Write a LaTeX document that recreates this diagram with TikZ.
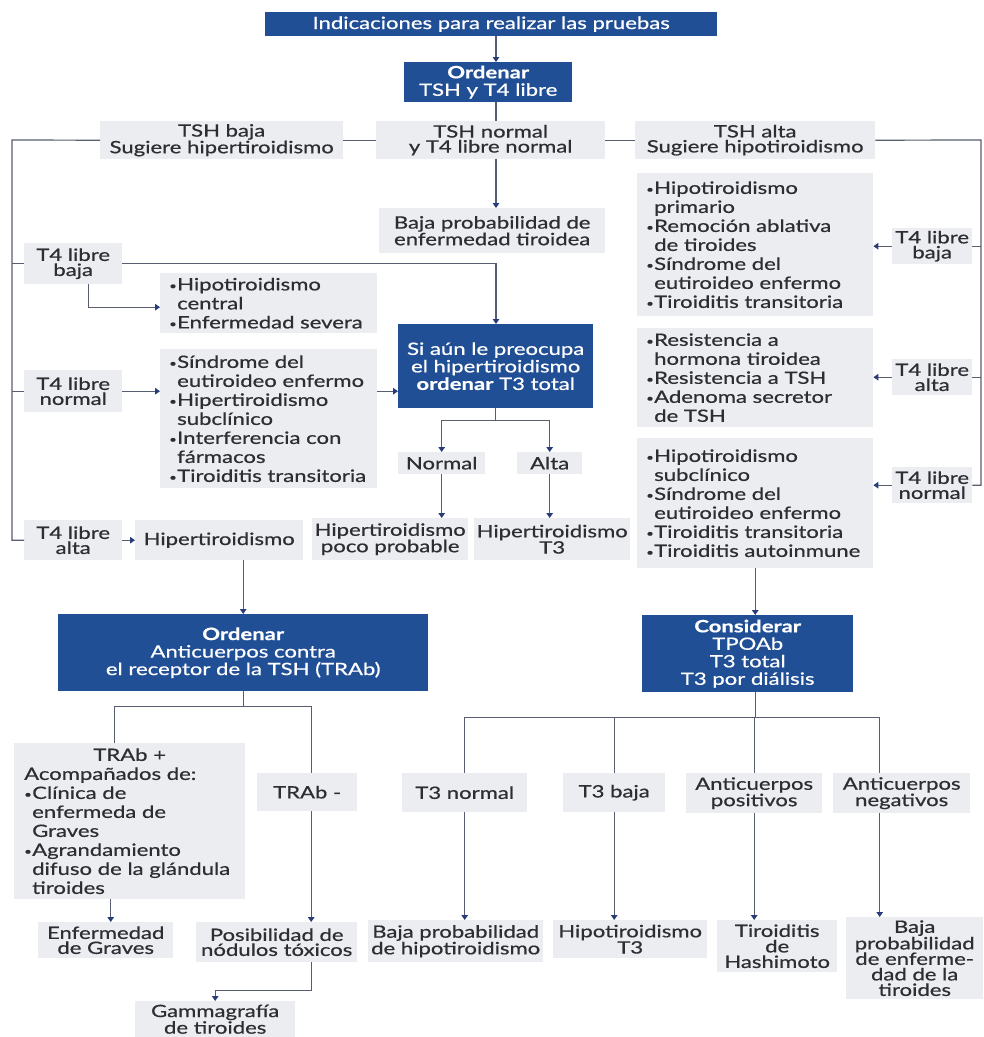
\documentclass[tikz,border=0pt]{standalone}
\usepackage{fontspec}
\setmainfont{Lato}[FakeStretch=1.3,FakeBold=0.6]
\usepackage{graphicx}
\usepackage{tikz}
\usetikzlibrary{arrows.meta}
\usetikzlibrary{positioning}
\usepackage{color}
\hyphenpenalty=10000

\definecolor{navybox}{RGB}{33,79,149}
\definecolor{boxgray}{RGB}{235,237,241}
\definecolor{linegray}{RGB}{88,94,112}
\definecolor{tipblue}{RGB}{40,60,122}
\definecolor{textgray}{RGB}{45,45,50}

\newcommand{\itemdot}{\makebox[8pt][l]{\raisebox{1pt}{\scalebox{0.6}{\textbullet}}}}
\newcommand{\itemgap}{\hspace*{8pt}}

\tikzset{
  darkbox/.style={anchor=north west, fill=navybox, text=white, align=center, inner sep=2pt, font=\fontsize{17}{17.5}\selectfont},
  lightbox/.style={anchor=north west, fill=boxgray, text=textgray, align=center, inner sep=2pt, font=\fontsize{17}{15}\selectfont},
  listbox/.style={lightbox, align=left, inner xsep=9pt, font=\fontsize{17}{19}\selectfont},
  link/.style={draw=linegray, line width=1.2pt},
  arrow/.style={link, -{Triangle[length=5pt,width=6.5pt,color=tipblue]}},
}

\begin{document}
\begin{tikzpicture}[x=1pt,y=-1pt]
    \useasboundingbox (0,0) rectangle (984,1037);
    \fill[white] (0,0) rectangle (984,1037);

    \coordinate (spine) at (496,0);
    \coordinate (lrail) at (12,140);
    \coordinate (rrail) at (981,140);

    % top
    \node[darkbox,minimum width=452pt,minimum height=24pt] (top) at (265,12) {Indicaciones para realizar las pruebas};
    \node[darkbox,minimum width=168pt,minimum height=40pt] (ordtsh) at (404,62) {\textbf{Ordenar}\\TSH y T4 libre};
    \node[lightbox,minimum width=243pt,minimum height=38pt] (tshbaja) at (100,121) {TSH baja\\Sugiere hipertiroidismo};
    \node[lightbox,minimum width=229pt,minimum height=38pt] (tshnormal) at (376,121) {TSH normal\\y T4 libre normal};
    \node[lightbox,minimum width=240pt,minimum height=38pt] (tshalta) at (635,121) {TSH alta\\Sugiere hipotiroidismo};
    \node[lightbox,minimum width=226pt,minimum height=45pt] (bajaprob) at (379,208) {Baja probabilidad de\\enfermedad tiroidea};

    % left
    \node[lightbox,minimum width=98pt,minimum height=41pt] (t4bajaL) at (24,243) {T4 libre\\baja};
    \node[listbox,text width=199pt,minimum height=60pt] (centralL) at (160,273) {\itemdot Hipotiroidismo\\\itemgap central\\\itemdot Enfermedad severa};
    \node[lightbox,minimum width=98pt,minimum height=42pt] (t4normalL) at (24,370) {T4 libre\\normal};
    \node[listbox,text width=199pt,minimum height=139pt] (eutiroL) at (160,349) {\itemdot Síndrome del\\\itemgap eutiroideo enfermo\\\itemdot Hipertiroidismo\\\itemgap subclínico\\\itemdot Interferencia con\\\itemgap fármacos\\\itemdot Tiroiditis transitoria};
    \node[darkbox,minimum width=195pt,minimum height=84pt] (siaun) at (398,324) {Si aún le preocupa\\el hipertiroidismo\\\textbf{ordenar} T3 total};
    \node[lightbox,minimum width=87pt,minimum height=22pt] (normal) at (398,452) {Normal};
    \node[lightbox,minimum width=65pt,minimum height=22pt] (alta) at (517,452) {Alta};
    \node[lightbox,minimum width=156pt,minimum height=42pt] (poco) at (312,518) {Hipertiroidismo\\poco probable};
    \node[lightbox,minimum width=156pt,minimum height=42pt] (hiperT3) at (474,518) {Hipertiroidismo\\T3};
    \node[lightbox,minimum width=98pt,minimum height=40pt] (t4altaL) at (24,520) {T4 libre\\alta};
    \node[lightbox,minimum width=168pt,minimum height=40pt] (hiper) at (135,520) {Hipertiroidismo};

    % right
    \node[listbox,text width=218pt,minimum height=143pt] (hipo1) at (637,173) {\itemdot Hipotiroidismo\\\itemgap primario\\\itemdot Remoción ablativa\\\itemgap de tiroides\\\itemdot Síndrome del\\\itemgap eutiroideo enfermo\\\itemdot Tiroiditis transitoria};
    \node[lightbox,minimum width=80pt,minimum height=36pt] (t4bajaR) at (892,228) {T4 libre\\baja};
    \node[listbox,text width=218pt,minimum height=99pt] (hipo2) at (637,328) {\itemdot Resistencia a\\\itemgap hormona tiroidea\\\itemdot Resistencia a TSH\\\itemdot Adenoma secretor\\\itemgap de TSH};
    \node[lightbox,minimum width=80pt,minimum height=36pt] (t4altaR) at (892,359) {T4 libre\\alta};
    \node[listbox,text width=218pt,minimum height=130pt] (hipo3) at (637,438) {\itemdot Hipotiroidismo\\\itemgap subclínico\\\itemdot Síndrome del\\\itemgap eutiroideo enfermo\\\itemdot Tiroiditis transitoria\\\itemdot Tiroiditis autoinmune};
    \node[lightbox,minimum width=80pt,minimum height=36pt] (t4normalR) at (892,467) {T4 libre\\normal};

    % bottom left
    \node[darkbox,minimum width=370pt,minimum height=77pt] (ordtrab) at (58,614) {\textbf{Ordenar}\\Anticuerpos contra\\el receptor de la TSH (TRAb)};
    \node[listbox,text width=211pt,inner xsep=10pt,minimum height=156pt] (trabpos) at (14,743) {\makebox[211pt]{TRAb +}\\Acompañados de:\\\itemdot Clínica de\\\itemgap enfermeda de\\\itemgap Graves\\\itemdot Agrandamiento\\\itemgap difuso de la glándula\\\itemgap tiroides};
    \node[lightbox,minimum width=100pt,minimum height=38pt] (trabneg) at (257,773) {TRAb -};
    \node[lightbox,minimum width=135pt,minimum height=36pt] (graves) at (38,922) {Enfermedad\\de Graves};
    \node[lightbox,minimum width=161pt,minimum height=40pt] (nodulos) at (196,922) {Posibilidad de\\nódulos tóxicos};
    \node[lightbox,minimum width=160pt,minimum height=36pt] (gamma) at (135,1001) {Gammagrafía\\de tiroides};

    % bottom right
    \node[darkbox,minimum width=211pt,minimum height=77pt] (consid) at (642,615) {\textbf{Considerar}\\TPOAb\\T3 total\\T3 por diálisis};
    \node[lightbox,minimum width=125pt,minimum height=39pt] (t3normal) at (402,773) {T3 normal};
    \node[lightbox,minimum width=102pt,minimum height=39pt] (t3baja) at (563,773) {T3 baja};
    \node[lightbox,minimum width=136pt,minimum height=40pt] (acpos) at (686,773) {Anticuerpos\\positivos};
    \node[lightbox,minimum width=137pt,minimum height=40pt] (acneg) at (833,773) {Anticuerpos\\negativos};
    \node[lightbox,minimum width=175pt,minimum height=42pt] (bajahipo) at (368,920) {Baja probabilidad\\de hipotiroidismo};
    \node[lightbox,minimum width=154pt,minimum height=38pt] (hipoT3) at (553,920) {Hipotiroidismo\\T3};
    \node[lightbox,minimum width=120pt,minimum height=52pt,font=\fontsize{17}{15.5}\selectfont] (hashi) at (717,920) {Tiroiditis\\de\\Hashimoto};
    \node[lightbox,minimum width=137pt,minimum height=82pt,font=\fontsize{17}{15.5}\selectfont] (bajaenf) at (846,917) {Baja\\probabilidad\\de enferme-\\dad de la\\tiroides};

    % connectors top
    \draw[arrow] (spine |- top.south) -- (spine |- ordtsh.north);
    \draw[link] (spine |- ordtsh.south) -- (spine |- tshnormal.north);
    \draw[arrow] (spine |- tshnormal.south) -- (spine |- bajaprob.north);
    \draw[link] (tshbaja.east) -- (tshnormal.west);
    \draw[link] (tshnormal.east) -- (tshalta.west);
    \draw[link] (tshbaja.west) -- (lrail) |- (t4altaL.west);
    \draw[link] (lrail |- t4bajaL.west) -- (t4bajaL.west);
    \draw[link] (lrail |- t4normalL.west) -- (t4normalL.west);
    \draw[link] (tshalta.east) -- (rrail) |- (t4normalR.east);
    \draw[link] (rrail |- t4bajaR.east) -- (t4bajaR.east);
    \draw[link] (rrail |- t4altaR.east) -- (t4altaR.east);

    % connectors left
    \draw[arrow] (t4bajaL.east) -| (spine |- siaun.north);
    \draw[arrow] ([xshift=15pt]t4bajaL.south) |- ([yshift=-4pt]centralL.west);
    \draw[arrow] (t4normalL.east) -- (t4normalL.east -| eutiroL.west);
    \draw[arrow] (eutiroL.east |- t4normalL.east) -- (siaun.west |- t4normalL.east);
    \draw[arrow] (siaun.south) -- ++(0,12) -| (normal.north);
    \draw[arrow] (siaun.south) ++(0,12) -| (alta.north);
    \draw[arrow] (normal.south) -- (normal.south |- poco.north);
    \draw[arrow] (alta.south) -- (alta.south |- hiperT3.north);
    \draw[arrow] (t4altaL.east) -- (hiper.west);
    \draw[arrow] (ordtrab.north |- hiper.south) -- (ordtrab.north);
    \draw[link] (ordtrab.south) -- ++(0,15) -| ([xshift=-15pt]trabpos.north);
    \draw[link] (ordtrab.south) ++(0,15) -| ([xshift=4pt]trabneg.north);
    \draw[arrow] ([xshift=5pt]graves.north |- trabpos.south) -- ([xshift=5pt]graves.north);
    \draw[arrow] ([xshift=4pt]trabneg.south) -- ([xshift=4pt]trabneg.south |- nodulos.north);
    \draw[arrow] ([xshift=4pt]trabneg.south |- nodulos.south) -- ++(0,28) -| (gamma.north);

    % connectors right
    \draw[arrow] (t4bajaR.west) -- (t4bajaR.west -| hipo1.east);
    \draw[arrow] (t4altaR.west) -- (t4altaR.west -| hipo2.east);
    \draw[arrow] (t4normalR.west) -- (t4normalR.west -| hipo3.east);
    \draw[arrow] (hipo3.south) -- (hipo3.south |- consid.north);
    \draw[link] (hipo3.south |- consid.south) -- ++(0,25) coordinate (fork);
    \draw[link] (t3normal.north |- fork) -- ([xshift=-22pt]acneg.north |- fork);
    \draw[link] (t3normal.north |- fork) -- (t3normal.north);
    \draw[link] (t3baja.north |- fork) -- (t3baja.north);
    \draw[link] (acpos.north |- fork) -- (acpos.north);
    \draw[link] ([xshift=-22pt]acneg.north |- fork) -- ([xshift=-22pt]acneg.north);
    \draw[arrow] (t3normal.south) -- (t3normal.south |- bajahipo.north);
    \draw[arrow] (t3baja.south) -- (t3baja.south |- hipoT3.north);
    \draw[arrow] (acpos.south) -- (acpos.south |- hashi.north);
    \draw[arrow] ([xshift=-22pt]acneg.south) -- ([xshift=-22pt]acneg.south |- bajaenf.north);
\end{tikzpicture}
\end{document}
